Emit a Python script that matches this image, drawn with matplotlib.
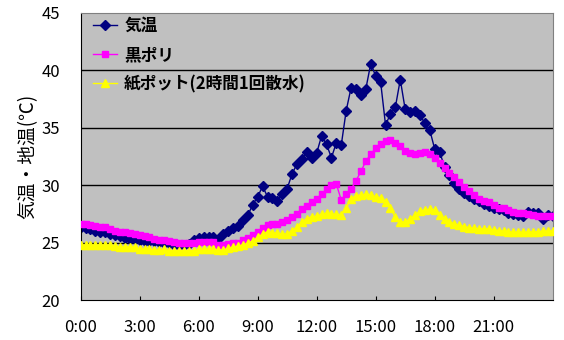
import numpy as np
import matplotlib
matplotlib.use("Agg")
import matplotlib.pyplot as plt

plt.rcParams['font.family'] = ['Noto Sans CJK JP', 'DejaVu Sans']

# 15-minute readings, 0:00 - 24:00
air_temp = [
    26.35, 26.25, 26.15, 26.05, 25.95, 25.9, 25.75, 25.7, 25.6, 25.4, 25.3, 25.3,
    25.2, 25.15, 25.1, 25.1, 25.05, 25.0, 24.95, 24.75, 24.8, 24.8, 24.85, 25.2,
    25.4, 25.5, 25.5, 25.45, 25.3, 25.75, 26.0, 26.3, 26.45, 27.0, 27.4, 28.3,
    29.0, 29.9, 29.0, 28.85, 28.65, 29.2, 29.7, 31.0, 31.85, 32.3, 32.85, 32.4,
    32.8, 34.3, 33.55, 32.4, 33.7, 33.5, 36.5, 38.5, 38.4, 37.9, 38.4, 40.6,
    39.5, 39.0, 35.25, 36.2, 36.8, 39.2, 36.6, 36.4, 36.5, 36.1, 35.4, 34.8,
    33.15, 32.9, 31.6, 30.9, 30.2, 29.7, 29.3, 29.1, 28.8, 28.6, 28.4, 28.2,
    28.05, 27.9, 27.8, 27.6, 27.5, 27.4, 27.3, 27.65, 27.6, 27.55, 27.1, 27.4,
    27.3,
]
black_poly = [
    26.6, 26.6, 26.55, 26.45, 26.4, 26.35, 26.15, 26.0, 25.95, 25.9, 25.8, 25.75,
    25.65, 25.55, 25.45, 25.35, 25.25, 25.2, 25.1, 25.05, 25.0, 25.0, 25.0, 25.0,
    25.05, 25.05, 25.05, 25.05, 24.75, 24.75, 24.85, 24.95, 25.0, 25.2, 25.4, 25.65,
    25.95, 26.25, 26.5, 26.6, 26.65, 26.8, 27.0, 27.2, 27.5, 27.9, 28.2, 28.5,
    28.8, 29.2, 29.65, 30.0, 30.1, 28.7, 29.2, 29.65, 30.4, 31.2, 32.1, 32.7,
    33.2, 33.55, 33.85, 33.9, 33.7, 33.4, 33.0, 32.8, 32.7, 32.8, 32.85, 32.7,
    32.35, 31.9, 31.5, 31.1, 30.7, 30.25, 29.85, 29.5, 29.15, 28.8, 28.65, 28.5,
    28.25, 28.05, 28.0, 27.8, 27.7, 27.6, 27.55, 27.45, 27.4, 27.35, 27.35, 27.35,
    27.35,
]
paper_pot = [
    24.75, 24.75, 24.75, 24.75, 24.75, 24.75, 24.75, 24.7, 24.6, 24.6, 24.6, 24.6,
    24.45, 24.45, 24.45, 24.35, 24.35, 24.4, 24.3, 24.3, 24.3, 24.3, 24.3, 24.3,
    24.4, 24.4, 24.4, 24.4, 24.35, 24.35, 24.5, 24.6, 24.7, 24.8, 24.95, 25.15,
    25.45, 25.75, 25.95, 25.85, 25.8, 25.75, 25.75, 26.05, 26.35, 26.8, 27.1, 27.25,
    27.3, 27.45, 27.55, 27.45, 27.45, 27.4, 28.0, 28.8, 29.1, 29.15, 29.2, 29.15,
    29.0, 28.9, 28.55, 28.0, 27.2, 26.8, 26.8, 27.05, 27.4, 27.75, 27.85, 27.9,
    27.85, 27.4, 27.05, 26.8, 26.65, 26.5, 26.4, 26.3, 26.25, 26.2, 26.2, 26.2,
    26.1, 26.05, 26.0, 25.95, 25.9, 25.9, 25.9, 25.9, 25.95, 25.95, 26.0, 26.0,
    26.0,
]
tick_hours = [0, 3, 6, 9, 12, 15, 18, 21]
tick_labels = ['0:00', '3:00', '6:00', '9:00', '12:00', '15:00', '18:00', '21:00']
series_names = ['気温', '黒ポリ', '紙ポット(2時間1回散水)']

hours = np.arange(len(air_temp)) / 4

fig = plt.figure(figsize=(5.64, 3.40), dpi=100)
ax = fig.add_axes([0.143, 0.1176, 0.837, 0.8442])
ax.set_facecolor('#C0C0C0')

# later series sit on top, like the spreadsheet chart
ax.plot(hours, air_temp, color='#000080', lw=1, marker='D', ms=5,
        label=series_names[0], zorder=2)
ax.plot(hours, black_poly, color='#FF00FF', lw=1, marker='s', ms=5,
        label=series_names[1], zorder=3)
ax.plot(hours, paper_pot, color='#FFFF00', lw=1, marker='^', ms=5.5,
        label=series_names[2], zorder=4)

ax.set_xlim(0, 24)
ax.set_ylim(20, 45)
ax.set_yticks([20, 25, 30, 35, 40, 45])
ax.set_xticks(tick_hours)
ax.set_xticklabels(tick_labels)
ax.tick_params(axis='x', direction='in', length=3, pad=14, labelsize=12)
ax.tick_params(axis='y', length=0, pad=15, labelsize=12)
for y in [25, 30, 35, 40]:
    ax.axhline(y, color='black', lw=1, zorder=1)

for side in ['top', 'right']:
    ax.spines[side].set_color('#808080')
for side in ['left', 'bottom']:
    ax.spines[side].set_color('black')

ax.set_ylabel('気温・地温(℃)', fontsize=13.5, labelpad=2)

leg = ax.legend(loc='upper left', bbox_to_anchor=(-0.005, 1.04), frameon=False,
                handlelength=1.4, handletextpad=0.45, labelspacing=0.68,
                prop={'size': 12, 'weight': 'bold'})

fig.savefig('out.png', dpi=100)
